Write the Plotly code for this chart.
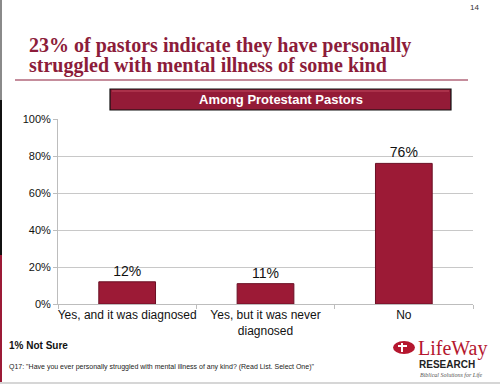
import plotly.graph_objects as go

categories = ["Yes, and it was diagnosed", "Yes, but it was never<br>diagnosed", "No"]
values = [12, 11, 76]
value_labels = ["12%", "11%", "76%"]
y_ticks = [0, 20, 40, 60, 80, 100]
y_tick_labels = ["0%", "20%", "40%", "60%", "80%", "100%"]

title_lines = ["23% of pastors indicate they have personally",
               "struggled with mental illness of some kind"]
header_text = "Among Protestant Pastors"
note_text = "1% Not Sure"
question_text = 'Q17: "Have you ever personally struggled with mental illness of any kind? (Read List. Select One)"'

W, H = 500, 385
L, R, T, B = 58, 27, 119, 81
PW, PH = W - L - R, H - T - B
maroon = "#8c1c3a"

fig = go.Figure()
fig.add_trace(go.Bar(
    x=categories, y=values, text=value_labels, textposition="outside",
    textfont=dict(family="Liberation Sans, Arial", size=14, color="#111"),
    marker=dict(color="#9c1a36", line=dict(color="#6a0f24", width=1)),
    width=0.41, cliponaxis=False,
))

def px(x):
    return (x - L) / PW

def py(y):
    return (H - B - y) / PH

fig.update_layout(
    width=W, height=H,
    margin=dict(l=L, r=R, t=T, b=B),
    paper_bgcolor="white", plot_bgcolor="white",
    showlegend=False,
    font=dict(family="Liberation Sans, Arial", color="#111"),
    xaxis=dict(
        showline=True, linecolor="#bdbdbd", linewidth=1,
        ticks="outside", tickson="boundaries", ticklen=4, tickcolor="#bdbdbd",
        tickfont=dict(size=12, color="#111"), fixedrange=True,
        tickangle=0, automargin=False,
    ),
    yaxis=dict(
        range=[0, 100], tickvals=y_ticks, ticktext=y_tick_labels,
        showgrid=True, gridcolor="#c8c8c8", gridwidth=1,
        showline=True, linecolor="#bdbdbd", linewidth=1,
        ticks="outside", ticklen=4, tickcolor="#bdbdbd",
        tickfont=dict(size=11, color="#111"), zeroline=False, fixedrange=True,
        automargin=False,
    ),
)

shapes = [
    # left edge strip
    dict(type="rect", xref="paper", yref="paper", x0=px(0), x1=px(2), y0=py(0), y1=py(100),
         fillcolor="#8a8a8a", line=dict(width=0)),
    dict(type="rect", xref="paper", yref="paper", x0=px(0), x1=px(2), y0=py(100), y1=py(255),
         fillcolor="#111111", line=dict(width=0)),
    dict(type="rect", xref="paper", yref="paper", x0=px(0), x1=px(2), y0=py(255), y1=py(382),
         fillcolor="#9c1a36", line=dict(width=0)),
    # bottom gray line
    dict(type="line", xref="paper", yref="paper", x0=px(0), x1=px(500), y0=py(383), y1=py(383),
         line=dict(color="#d6d6d6", width=2)),
    # title underline
    dict(type="line", xref="paper", yref="paper", x0=px(15), x1=px(468), y0=py(80), y1=py(80),
         line=dict(color=maroon, width=1.2)),
    # header box
    dict(type="rect", xref="paper", yref="paper", x0=px(110), x1=px(451), y0=py(110), y1=py(89),
         fillcolor="#941b37", line=dict(color="#111", width=1.2)),
    dict(type="line", xref="paper", yref="paper", x0=px(112), x1=px(449), y0=py(91), y1=py(91),
         line=dict(color="#c0485f", width=1)),
    # logo emblem
    dict(type="circle", xref="paper", yref="paper", x0=px(393), x1=px(415), y0=py(354), y1=py(341),
         fillcolor="#b5172f", line=dict(width=0)),
    dict(type="line", xref="paper", yref="paper", x0=px(402), x1=px(402), y0=py(343), y1=py(352),
         line=dict(color="white", width=2)),
    dict(type="line", xref="paper", yref="paper", x0=px(398), x1=px(407), y0=py(346), y1=py(346),
         line=dict(color="white", width=2)),
]
fig.update_layout(shapes=shapes)

annotations = []
for i, line in enumerate(title_lines):
    annotations.append(dict(
        text="<b>" + line + "</b>", x=px(27), y=py(45 + 20 * i), xref="paper", yref="paper",
        xanchor="left", yanchor="middle", align="left", showarrow=False,
        font=dict(family="Liberation Serif, Times New Roman", size=20, color=maroon)))

annotations += [
    dict(text="<b>" + header_text + "</b>", x=px(280.5), y=py(100), xref="paper", yref="paper",
         xanchor="center", yanchor="middle", showarrow=False,
         font=dict(family="Liberation Sans, Arial", size=13, color="white")),
    dict(text="14", x=px(474), y=py(8), xref="paper", yref="paper",
         xanchor="center", yanchor="middle", showarrow=False,
         font=dict(family="Liberation Sans, Arial", size=8, color="#333")),
    dict(text="<b>" + note_text + "</b>", x=px(7), y=py(345), xref="paper", yref="paper",
         xanchor="left", yanchor="middle", showarrow=False,
         font=dict(family="Liberation Sans, Arial", size=10, color="#111")),
    dict(text=question_text, x=px(7), y=py(367), xref="paper", yref="paper",
         xanchor="left", yanchor="middle", showarrow=False,
         font=dict(family="Liberation Sans, Arial", size=7, color="#222")),
    dict(text="LifeWay", x=px(416), y=py(348), xref="paper", yref="paper",
         xanchor="left", yanchor="middle", showarrow=False,
         font=dict(family="Liberation Serif, Times New Roman", size=20, color="#b5172f")),
    dict(text="<b>RESEARCH</b>", x=px(447), y=py(364), xref="paper", yref="paper",
         xanchor="center", yanchor="middle", showarrow=False,
         font=dict(family="Liberation Sans, Arial", size=10, color="#222")),
    dict(text="<i>Biblical Solutions for Life</i>", x=px(451), y=py(375), xref="paper", yref="paper",
         xanchor="center", yanchor="middle", showarrow=False,
         font=dict(family="Liberation Serif, Times New Roman", size=6, color="#555")),
]
fig.update_layout(annotations=annotations)

fig.write_html("out.html", config={"displayModeBar": False},
               post_script="document.body.style.margin='0';")
